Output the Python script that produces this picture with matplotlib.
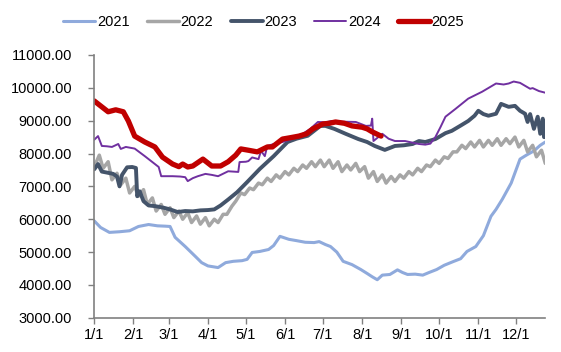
import numpy as np
import matplotlib
matplotlib.use("Agg")
import matplotlib.pyplot as plt

plt.rcParams["font.family"] = ["Liberation Sans", "DejaVu Sans"]

# day of year (0 = 1/1) and values per year
d2021 = [0, 5, 12, 20, 28, 35, 43, 50, 56, 60, 64, 72, 80, 85, 90, 98, 104, 110, 117, 121,
         125, 131, 138, 142, 147, 154, 160, 167, 174, 178, 183, 187, 192, 197, 204, 211, 216, 220, 224, 228,
         234, 240, 244, 248, 254, 260, 265, 271, 277, 284, 290, 295, 302, 308, 314, 318, 323, 330, 337, 342,
         348, 353, 357]
v2021 = [5950, 5750, 5600, 5620, 5650, 5780, 5840, 5800, 5790, 5780, 5450, 5170, 4870, 4680, 4580, 4530, 4680, 4720, 4740, 4780,
         4990, 5020, 5080, 5200, 5480, 5390, 5350, 5300, 5290, 5320, 5230, 5170, 5000, 4720, 4620, 4470, 4350, 4250, 4160, 4300,
         4320, 4460, 4380, 4320, 4330, 4300, 4380, 4470, 4600, 4710, 4800, 5020, 5170, 5500, 6090, 6300, 6610, 7100, 7830, 7950,
         8080, 8250, 8350]

# 2022 has a weekly saw-tooth: lows on day 7k, highs on day 7k+4
low2022 = [7600, 7550, 7200, 7050, 6800, 6700, 6450, 6250, 6150, 6050, 6000, 5900, 5850, 5800, 5900, 6150, 6550, 6750,
           6900, 7050, 7150, 7250, 7350, 7450, 7550, 7600, 7600, 7550, 7450, 7500, 7450, 7250, 7150, 7100, 7150, 7250,
           7350, 7450, 7600, 7700, 7850, 8050, 8150, 8200, 8200, 8250, 8250, 8300, 8200, 8050, 7900, 7700]
high2022 = [7950, 7750, 7400, 7250, 7000, 6900, 6650, 6450, 6350, 6250, 6200, 6100, 6050, 6000, 6150, 6400, 6800, 6950,
            7100, 7250, 7350, 7450, 7550, 7650, 7750, 7800, 7800, 7750, 7650, 7700, 7600, 7450, 7350, 7300, 7350, 7450,
            7550, 7650, 7800, 7900, 8050, 8250, 8350, 8400, 8400, 8450, 8450, 8500, 8400, 8250, 8100]

d2023 = [0, 3, 6, 10, 15, 18, 20, 22, 26, 30, 33, 34, 36, 39, 43, 48, 55, 60, 66, 72,
         78, 84, 90, 95, 100, 106, 113, 121, 131, 142, 153, 160, 169, 179, 183, 190, 199, 209, 216, 222,
         230, 238, 245, 252, 257, 262, 270, 278, 283, 290, 296, 301, 304, 308, 312, 318, 322, 328, 333, 337,
         341, 343, 345, 348, 351, 353, 355, 356, 357]
v2023 = [7520, 7680, 7450, 7420, 7380, 7300, 7000, 7350, 7580, 7590, 7560, 6700, 6850, 6550, 6420, 6400, 6350, 6300, 6220, 6250,
         6240, 6270, 6280, 6300, 6420, 6600, 6820, 7130, 7530, 7920, 8350, 8450, 8540, 8840, 8840, 8750, 8600, 8440, 8350, 8230,
         8110, 8230, 8250, 8290, 8380, 8350, 8440, 8620, 8690, 8850, 8990, 9150, 9300, 9200, 9150, 9210, 9510, 9420, 9450, 9300,
         9210, 8960, 9200, 8750, 9120, 8600, 9060, 8500, 8500]

d2024 = [0, 3, 6, 10, 14, 19, 21, 25, 32, 40, 48, 51, 53, 62, 68, 72, 74, 78, 82, 88,
         93, 98, 106, 114, 115, 120, 122, 125, 130, 132, 135, 137, 143, 149, 157, 165, 171, 177, 183, 188,
         195, 207, 215, 219, 220, 221, 228, 233, 238, 246, 252, 257, 262, 266, 270, 274, 278, 286, 296, 307,
         318, 324, 328, 332, 337, 341, 345, 347, 352, 357]
v2024 = [8420, 8530, 8230, 8220, 8200, 8290, 8140, 8200, 8150, 7920, 7680, 7590, 7310, 7310, 7300, 7280, 7160, 7250, 7310, 7380,
         7350, 7310, 7460, 7440, 7740, 7750, 7770, 7880, 7830, 8080, 7920, 8230, 8300, 8350, 8450, 8600, 8750, 8960, 8950, 8990,
         8970, 8960, 8840, 8850, 9060, 8380, 8600, 8450, 8380, 8380, 8330, 8290, 8270, 8300, 8500, 8800, 9120, 9360, 9670, 9880,
         10130, 10100, 10130, 10190, 10150, 10060, 9970, 9990, 9900, 9850]

d2025 = [0, 5, 11, 17, 23, 27, 32, 40, 48, 54, 62, 67, 70, 74, 78, 86, 93, 100, 106, 112,
         116, 122, 129, 137, 141, 149, 155, 162, 168, 173, 181, 186, 191, 198, 204, 212, 216, 220, 227]
v2025 = [9600, 9450, 9270, 9330, 9270, 8990, 8530, 8350, 8200, 7890, 7680, 7600, 7680, 7590, 7620, 7830, 7620, 7620, 7750, 7950,
         8140, 8100, 8050, 8200, 8200, 8440, 8480, 8530, 8600, 8750, 8900, 8920, 8960, 8920, 8840, 8800, 8750, 8660, 8530]

month_starts = [0, 31, 59, 90, 120, 151, 181, 212, 243, 273, 304, 334]
month_labels = ["1/1", "2/1", "3/1", "4/1", "5/1", "6/1", "7/1", "8/1", "9/1", "10/1", "11/1", "12/1"]

# interleave the 2022 lows/highs
d2022, v2022 = [], []
for k in range(len(low2022)):
    d2022.append(7 * k)
    v2022.append(low2022[k])
    if k < len(high2022):
        d2022.append(7 * k + 4)
        v2022.append(high2022[k])

fig = plt.figure(figsize=(5.61, 3.52), dpi=100)
ax = fig.add_axes([0.168, 0.097, 0.804, 0.747])

style = dict(solid_joinstyle="round", solid_capstyle="round")
ax.plot(d2021, v2021, color="#8FAADC", lw=2.2, label="2021", **style)
ax.plot(d2022, v2022, color="#A6A6A6", lw=2.5, label="2022", **style)
ax.plot(d2023, v2023, color="#44546A", lw=2.8, label="2023", **style)
ax.plot(d2024, v2024, color="#7030A0", lw=1.4, label="2024", **style)
ax.plot(d2025, v2025, color="#C00000", lw=3.8, label="2025", **style)

ax.set_xlim(0, 357)
ax.set_ylim(3000, 11000)
ax.set_xticks(month_starts)
ax.set_xticklabels(month_labels)
ax.set_yticks(np.arange(3000, 11001, 1000))
ax.yaxis.set_major_formatter(matplotlib.ticker.FuncFormatter(lambda v, p: f"{v:.2f}"))

for s in ["top", "right"]:
    ax.spines[s].set_visible(False)
for s in ["left", "bottom"]:
    ax.spines[s].set_color("#808080")
    ax.spines[s].set_linewidth(1.2)
ax.tick_params(axis="both", direction="out", length=4, width=1, color="#808080",
               labelsize=10.5, labelcolor="black")
ax.tick_params(axis="y", pad=12)

fig.legend(loc="center", bbox_to_anchor=(0.47, 0.937), ncol=5, frameon=False,
           fontsize=10.5, handlelength=2.2, handletextpad=0.1, columnspacing=1.2)

fig.savefig("out.png", dpi=100)
